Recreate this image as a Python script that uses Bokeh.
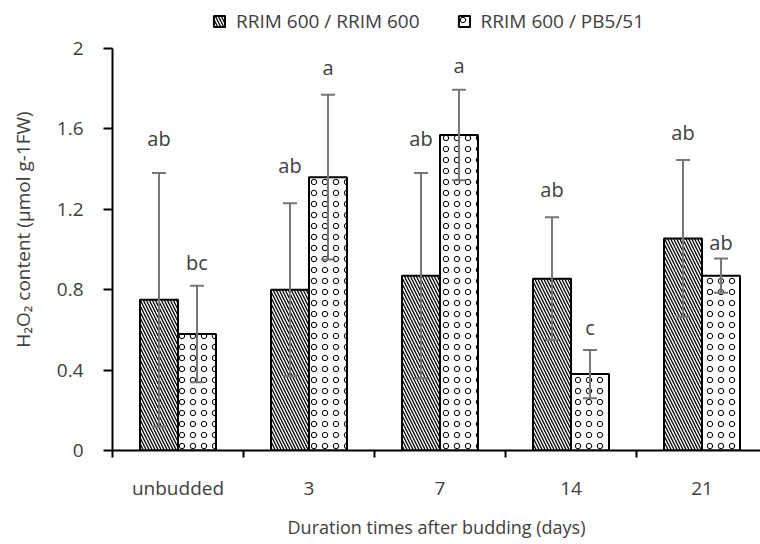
from bokeh.plotting import figure
from bokeh.models import (ColumnDataSource, Whisker, TeeHead, LabelSet, Legend,
                          LegendItem, FixedTicker, Range1d)
from bokeh.core.properties import value
from bokeh.embed import file_html
from bokeh.resources import INLINE

# ---- data ----
categories = ["unbudded", "3", "7", "14", "21"]
series_names = ["RRIM 600 / RRIM 600", "RRIM 600 / PB5/51"]
rrim_mean = [0.75, 0.80, 0.87, 0.855, 1.055]
rrim_sd = [0.63, 0.43, 0.51, 0.305, 0.39]
pb_mean = [0.58, 1.36, 1.57, 0.38, 0.87]
pb_sd = [0.24, 0.41, 0.225, 0.12, 0.085]
rrim_letters = ["ab", "ab", "ab", "ab", "ab"]
pb_letters = ["bc", "a", "a", "c", "ab"]
rrim_letter_y = [1.55, 1.42, 1.55, 1.30, 1.58]
pb_letter_y = [0.935, 1.905, 1.915, 0.61, 1.035]
y_ticks = [0, 0.4, 0.8, 1.2, 1.6, 2]
y_tick_labels = ["0", "0.4", "0.8", "1.2", "1.6", "2"]
y_max = 2

FONT = "Open Sans"
TXT = "#404040"
FS = "19px"

bar_w = 0.29
centers = [i + 0.5 for i in range(len(categories))]
x_rrim = [c - bar_w / 2 for c in centers]
x_pb = [c + bar_w / 2 for c in centers]

# frame spans 8..450 px; the extra headroom above y_max holds the legend
p = figure(width=760, height=544, x_range=Range1d(0, 648 / 131),
           y_range=Range1d(0, y_max + 40 / 201),
           output_backend="svg", toolbar_location=None,
           min_border_left=112, min_border_top=8, min_border_bottom=94, min_border_right=0)
p.outline_line_color = None
p.xgrid.visible = False
p.ygrid.visible = False
p.background_fill_color = "white"

src_r = ColumnDataSource(dict(x=x_rrim, top=rrim_mean,
                              upper=[m + s for m, s in zip(rrim_mean, rrim_sd)],
                              lower=[m - s for m, s in zip(rrim_mean, rrim_sd)],
                              t=rrim_letters, ly=rrim_letter_y))
src_p = ColumnDataSource(dict(x=x_pb, top=pb_mean,
                              upper=[m + s for m, s in zip(pb_mean, pb_sd)],
                              lower=[m - s for m, s in zip(pb_mean, pb_sd)],
                              t=pb_letters, ly=pb_letter_y))

r1 = p.vbar(x="x", top="top", width=bar_w, source=src_r, fill_color="white",
            line_color="black", line_width=2, hatch_pattern="\\", hatch_scale=6,
            hatch_weight=1.3, hatch_color="black")
r2 = p.vbar(x="x", top="top", width=bar_w, source=src_p, fill_color="white",
            line_color="black", line_width=2, hatch_pattern="o", hatch_scale=11,
            hatch_weight=1.0, hatch_color="black")

for src in (src_r, src_p):
    w = Whisker(base="x", upper="upper", lower="lower", source=src,
                line_color="#767676", line_width=2, level="overlay",
                upper_head=TeeHead(size=14, line_color="#767676", line_width=2),
                lower_head=TeeHead(size=14, line_color="#767676", line_width=2))
    p.add_layout(w)
    lab = LabelSet(x="x", y="ly", text="t", source=src, text_align="center",
                   text_baseline="middle", text_font_size=value("20px"),
                   text_font=value(FONT), text_color=TXT)
    p.add_layout(lab)

legend = Legend(items=[LegendItem(label=series_names[0], renderers=[r1]),
                       LegendItem(label=series_names[1], renderers=[r2])],
                orientation="horizontal", location=(100, 416), glyph_width=14,
                glyph_height=14, label_standoff=10, spacing=37, padding=0, margin=0,
                border_line_color=None, background_fill_alpha=0,
                label_text_font_size=FS, label_text_font=FONT, label_text_color=TXT)
p.add_layout(legend)

# x axis
xa = p.xaxis[0]
xa.ticker = FixedTicker(ticks=centers, minor_ticks=list(range(len(categories) + 1)))
xa.major_label_overrides = {c: lab for c, lab in zip(centers, categories)}
xa.major_tick_line_color = None
xa.major_tick_out = 0
xa.minor_tick_out = 7
xa.minor_tick_in = 0
xa.minor_tick_line_color = "black"
xa.minor_tick_line_width = 2
xa.axis_line_width = 2
xa.axis_line_color = "black"
xa.major_label_standoff = 17
xa.major_label_text_font = FONT
xa.major_label_text_font_size = FS
xa.major_label_text_color = TXT
xa.axis_label = "Duration times after budding (days)"
xa.axis_label_text_font = FONT
xa.axis_label_text_font_size = "18px"
xa.axis_label_text_font_style = "normal"
xa.axis_label_text_color = TXT
xa.axis_label_standoff = 11

# y axis
ya = p.yaxis[0]
ya.ticker = FixedTicker(ticks=y_ticks)
ya.bounds = (0, y_max)
ya.major_label_overrides = {t: l for t, l in zip(y_ticks, y_tick_labels)}
ya.major_tick_out = 9
ya.major_tick_in = 0
ya.major_tick_line_width = 2
ya.minor_tick_line_color = None
ya.axis_line_width = 2
ya.axis_line_color = "black"
ya.major_label_standoff = 20
ya.major_label_text_font = FONT
ya.major_label_text_font_size = FS
ya.major_label_text_color = TXT
ya.axis_label = "H₂O₂ content (µmol g-1FW)"
ya.axis_label_text_font = FONT
ya.axis_label_text_font_size = FS
ya.axis_label_text_font_style = "normal"
ya.axis_label_text_color = TXT
ya.axis_label_standoff = 18

open("out.html", "w").write(file_html(p, INLINE))
